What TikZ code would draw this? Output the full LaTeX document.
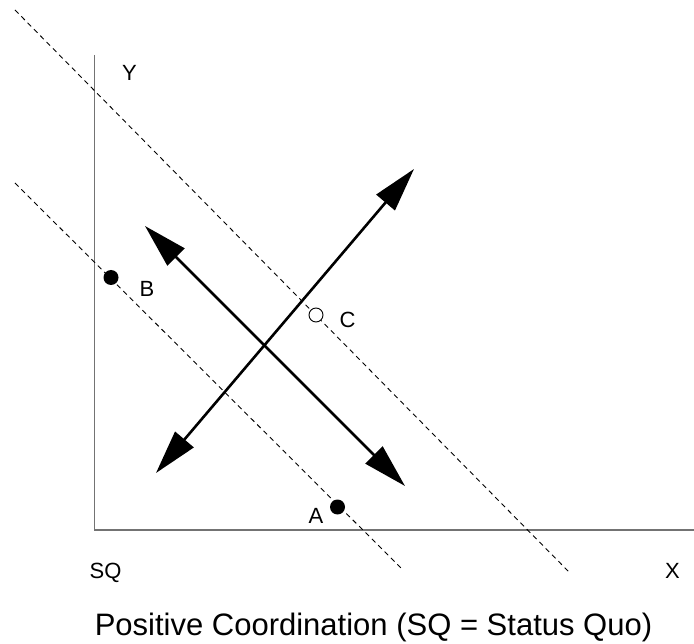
\documentclass[tikz,border=0pt]{standalone}
\usepackage{fontspec}
\setmainfont{Liberation Sans}
\usetikzlibrary{arrows.meta}
\begin{document}
\begin{tikzpicture}[x=1pt,y=-1pt,
  axis/.style={draw=black!55,line width=1.5pt},
  guide/.style={draw=black,line width=0.9pt,dash pattern=on 5pt off 4pt},
  dir/.style={line width=2.6pt,{Triangle[length=44pt,width=24pt]}-{Triangle[length=44pt,width=24pt]}},
  dot/.style={circle,fill=black,inner sep=0pt,minimum size=15pt},
  hollow/.style={circle,draw=black,line width=0.9pt,fill=white,inner sep=0pt,minimum size=14pt},
  lbl/.style={font=\fontsize{22}{24}\selectfont,inner sep=0pt,anchor=base},
  captxt/.style={font=\fontsize{31}{34}\selectfont,inner sep=0pt,anchor=base}]
\useasboundingbox (0,0) rectangle (694,644);
% axes
\coordinate (ytop) at (94.5,55);
\coordinate (origin) at (94.5,530);
\coordinate (xend) at (694,530);
\draw[axis] (ytop) -- (origin) -- (xend);
% dashed indifference lines
\coordinate (u1) at (15,10);
\coordinate (u2) at (570,573);
\coordinate (l1) at (15,183);
\coordinate (l2) at (403,570);
\draw[guide] (u1) -- (u2);
\draw[guide] (l1) -- (l2);
% arrows
\coordinate (ne) at (414,169);
\coordinate (sw) at (156,473);
\coordinate (nw) at (145,226);
\coordinate (se) at (405,486);
\draw[dir] (sw) -- (ne);
\draw[dir] (nw) -- (se);
% points
\node[dot] (B) at (111,277.5) {};
\node[dot] (A) at (337.5,507) {};
\node[hollow] (C) at (316,315) {};
% labels
\node[lbl] (Blbl) at (147,297) {B};
\node[lbl] (Albl) at (316,523) {A};
\node[lbl] (Clbl) at (347.5,328) {C};
\node[lbl] (Ylbl) at (129.5,81) {Y};
\node[lbl] (Xlbl) at (672.5,578) {X};
\node[lbl] (SQlbl) at (105.5,578) {SQ};
\node[captxt] (caption) at (373.5,635) {Positive Coordination (SQ = Status Quo)};
\end{tikzpicture}
\end{document}
